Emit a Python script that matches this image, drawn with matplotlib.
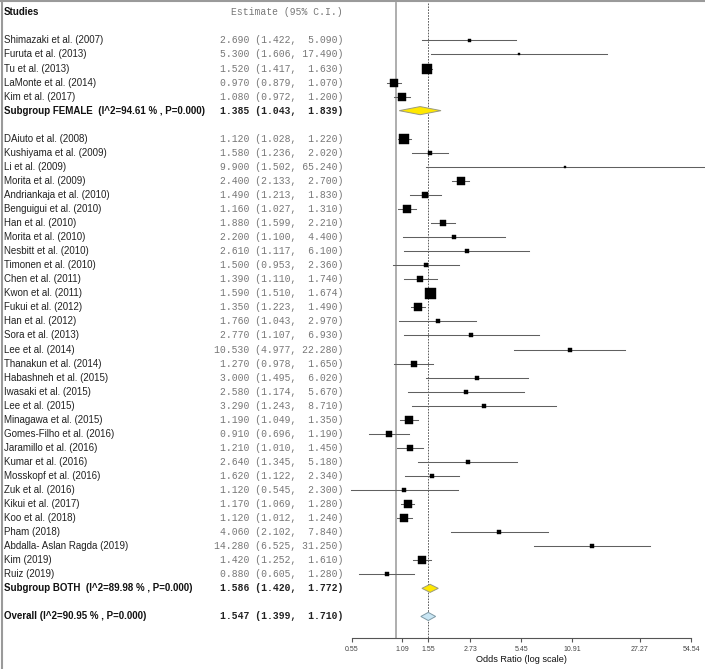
import numpy as np
import matplotlib
matplotlib.use("Agg")
import matplotlib.pyplot as plt
from matplotlib.patches import Polygon
from matplotlib.lines import Line2D
from matplotlib.transforms import blended_transform_factory

# --- data ---
female_studies = ["Shimazaki et al. (2007)", "Furuta et al. (2013)", "Tu et al. (2013)",
                  "LaMonte et al. (2014)", "Kim et al. (2017)"]
female_est = [2.690, 5.300, 1.520, 0.970, 1.080]
female_lo = [1.422, 1.606, 1.417, 0.879, 0.972]
female_hi = [5.090, 17.490, 1.630, 1.070, 1.200]
female_weight = [3.0, 2.4, 9.3, 8.7, 7.3]

both_studies = ["DAiuto et al. (2008)", "Kushiyama et al. (2009)", "Li et al. (2009)",
                "Morita et al. (2009)", "Andriankaja et al. (2010)", "Benguigui et al. (2010)",
                "Han et al. (2010)", "Morita et al. (2010)", "Nesbitt et al. (2010)",
                "Timonen et al. (2010)", "Chen et al. (2011)", "Kwon et al. (2011)",
                "Fukui et al. (2012)", "Han et al. (2012)", "Sora et al. (2013)",
                "Lee et al. (2014)", "Thanakun et al. (2014)", "Habashneh et al. (2015)",
                "Iwasaki et al. (2015)", "Lee et al. (2015)", "Minagawa et al. (2015)",
                "Gomes-Filho et al. (2016)", "Jaramillo et al. (2016)", "Kumar et al. (2016)",
                "Mosskopf et al. (2016)", "Zuk et al. (2016)", "Kikui et al. (2017)",
                "Koo et al. (2018)", "Pham (2018)", "Abdalla- Aslan Ragda (2019)",
                "Kim (2019)", "Ruiz (2019)"]
both_est = [1.120, 1.580, 9.900, 2.400, 1.490, 1.160, 1.880, 2.200, 2.610, 1.500,
            1.390, 1.590, 1.350, 1.760, 2.770, 10.530, 1.270, 3.000, 2.580, 3.290,
            1.190, 0.910, 1.210, 2.640, 1.620, 1.120, 1.170, 1.120, 4.060, 14.280,
            1.420, 0.880]
both_lo = [1.028, 1.236, 1.502, 2.133, 1.213, 1.027, 1.599, 1.100, 1.117, 0.953,
           1.110, 1.510, 1.223, 1.043, 1.107, 4.977, 0.978, 1.495, 1.174, 1.243,
           1.049, 0.696, 1.010, 1.345, 1.122, 0.545, 1.069, 1.012, 2.102, 6.525,
           1.252, 0.605]
both_hi = [1.220, 2.020, 65.240, 2.700, 1.830, 1.310, 2.210, 4.400, 6.100, 2.360,
           1.740, 1.674, 1.490, 2.970, 6.930, 22.280, 1.650, 6.020, 5.670, 8.710,
           1.350, 1.190, 1.450, 5.180, 2.340, 2.300, 1.280, 1.240, 7.840, 31.250,
           1.610, 1.280]
both_weight = [9.3, 5.0, 2.4, 8.0, 5.7, 8.0, 6.7, 3.5, 3.2, 4.0,
               5.7, 11.0, 8.7, 4.3, 3.2, 3.5, 5.3, 3.2, 3.5, 3.2,
               7.3, 5.3, 6.0, 3.5, 4.7, 3.2, 8.0, 8.0, 3.5, 3.2,
               7.3, 4.3]

summary_labels = ["Subgroup FEMALE  (I^2=94.61 % , P=0.000)",
                  "Subgroup BOTH  (I^2=89.98 % , P=0.000)",
                  "Overall (I^2=90.95 % , P=0.000)"]
summary_est = [1.385, 1.586, 1.547]
summary_lo = [1.043, 1.420, 1.399]
summary_hi = [1.839, 1.772, 1.710]

tick_values = [0.55, 1.09, 1.55, 2.73, 5.45, 10.91, 27.27, 54.54]

# --- layout (pixels of a 705x669 canvas) ---
W, H = 705, 669
ROW0, ROWH = 12.3, 14.05          # centre of row 0 and row pitch
AX_L, AX_R, AX_B = 352, 691, 638  # plot area in pixels

female_rows = list(range(2, 2 + len(female_studies)))
both_start = female_rows[-1] + 3
both_rows = list(range(both_start, both_start + len(both_studies)))
summary_rows = [female_rows[-1] + 1, both_rows[-1] + 1, both_rows[-1] + 3]
diamond_colors = ["#ffe800", "#ffe800", "#c9e6f4"]
diamond_edges = ["#9a9a80", "#9a9a80", "#7f9aa6"]


def ci_text(e, lo, hi):
    return f"{e:.3f} ({lo:.3f}, {hi:6.3f})"


fig = plt.figure(figsize=(W / 100, H / 100), dpi=100)
r_top = -ROW0 / ROWH
r_bot = (AX_B - ROW0) / ROWH
ax = fig.add_axes([AX_L / W, (H - AX_B) / H, (AX_R - AX_L) / W, AX_B / H])
ax.set_xscale("log")
ax.set_xlim(tick_values[0], tick_values[-1])
ax.set_ylim(r_bot, r_top)

# reference lines
ax.plot([1, 1], [-0.65, r_bot], color="#a8a8a8", lw=1.3, zorder=1, clip_on=False)
ax.plot([summary_est[2]] * 2, [-0.65, r_bot], color="#444444", lw=0.6,
        dashes=(2, 1.5), zorder=1, clip_on=False)

# study rows
est = female_est + both_est
lo = female_lo + both_lo
hi = female_hi + both_hi
wt = female_weight + both_weight
rows = female_rows + both_rows
for r, e, l, h, w in zip(rows, est, lo, hi, wt):
    ax.plot([l, h], [r, r], color="#606060", lw=0.75, zorder=2, clip_on=False)
    ax.plot(e, r, marker="s", ms=w * 0.72, color="black", mec="black", mew=0.3,
            zorder=3, clip_on=False)

# diamonds
for r, e, l, h, fc, ec in zip(summary_rows, summary_est, summary_lo, summary_hi,
                              diamond_colors, diamond_edges):
    d = 0.29
    poly = Polygon([(l, r), (e, r - d), (h, r), (e, r + d)], closed=True,
                   facecolor=fc, edgecolor=ec, lw=0.7, zorder=4)
    ax.add_patch(poly)

# axis styling
for side in ["top", "right", "left"]:
    ax.spines[side].set_visible(False)
ax.spines["bottom"].set_color("#555555")
ax.spines["bottom"].set_linewidth(0.8)
ax.set_yticks([])
ax.set_xticks(tick_values)
ax.set_xticklabels([f"{t:.2f}" for t in tick_values])
ax.xaxis.set_minor_locator(matplotlib.ticker.NullLocator())
ax.tick_params(axis="x", direction="out", length=3, width=0.8, color="#555555",
               pad=2.5, labelsize=5, labelcolor="#444444")
ax.set_xlabel("Odds Ratio (log scale)", fontsize=6.6, color="#111111",
              family="Liberation Sans", labelpad=2)
for lab in ax.get_xticklabels():
    lab.set_family("Liberation Sans")

# text columns
tr = blended_transform_factory(fig.transFigure, ax.transData)
name_x = 4 / W
num_x = 343 / W
ax.text(name_x, 0, "Studies", transform=tr, ha="left", va="center", fontsize=7,
        fontweight="bold", family="Liberation Sans", color="#111111", clip_on=False)
ax.text(num_x, 0, "Estimate (95% C.I.)", transform=tr, ha="right", va="center",
        fontsize=7, family="Liberation Mono", color="#777777", clip_on=False)

names = female_studies + both_studies
for r, n, e, l, h in zip(rows, names, est, lo, hi):
    ax.text(name_x, r, n, transform=tr, ha="left", va="center", fontsize=7,
            family="Liberation Sans", color="#222222", clip_on=False)
    ax.text(num_x, r, ci_text(e, l, h), transform=tr, ha="right", va="center",
            fontsize=7, family="Liberation Mono", color="#777777", clip_on=False)

for r, n, e, l, h in zip(summary_rows, summary_labels, summary_est, summary_lo, summary_hi):
    ax.text(name_x, r, n, transform=tr, ha="left", va="center", fontsize=7,
            fontweight="bold", family="Liberation Sans", color="#111111", clip_on=False)
    ax.text(num_x, r, ci_text(e, l, h), transform=tr, ha="right", va="center",
            fontsize=7, fontweight="bold", family="Liberation Mono", color="#222222",
            clip_on=False)

# frame lines at top and left edge
fig.add_artist(Line2D([0, 1], [1 - 1 / H, 1 - 1 / H], color="#9a9a9a", lw=1.5))
fig.add_artist(Line2D([2 / W, 2 / W], [0, 1], color="#9a9a9a", lw=1.5))

fig.savefig("out.png", dpi=100)
